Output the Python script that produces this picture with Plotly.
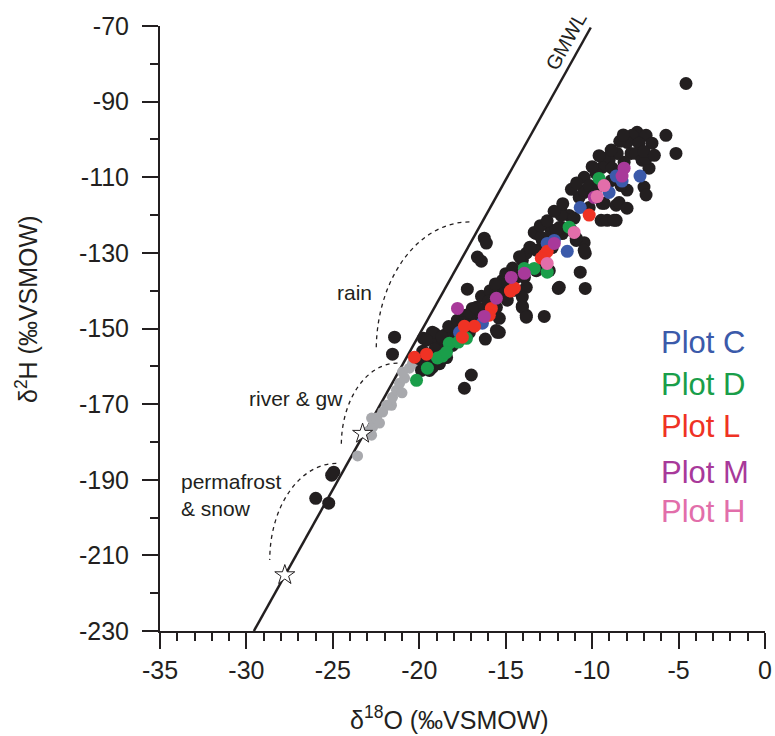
import plotly.graph_objects as go

# ---------------- data ----------------
grey_x = [-23.57, -22.76, -23.05, -22.70, -22.76, -22.47, -22.12, -21.61, -21.55, -21.32,
          -21.14, -20.85, -20.97, -20.57, -20.39, -19.99, -21.89, -22.30, -21.00]
grey_y = [-183.7, -178.2, -177.4, -176.1, -173.7, -173.7, -172.1, -170.3, -168.2, -166.3,
          -164.5, -163.1, -161.5, -160.5, -159.2, -158.9, -170.3, -175.0, -167.0]

black_x = [-4.57, -25.07, -24.95, -25.99, -25.24, -21.43, -21.55, -16.24, -16.12, -16.64,
           -16.41, -17.22, -16.99, -17.39, -16.18, -15.37, -12.77, -11.96, -10.40, -10.69,
           -10.40, -13.81, -14.04, -19.76, -19.12, -19.00, -18.66, -18.42, -19.00, -18.08,
           -17.67, -16.81, -16.69, -16.12, -15.77, -15.54, -15.25, -14.96, -14.39, -13.92,
           -13.81, -14.04, -14.62, -14.04, -13.81, -13.23, -13.23, -12.88, -12.31, -11.73,
           -11.33, -11.73, -11.73, -10.92, -10.46, -16.52, -16.81, -15.48, -15.37, -15.20,
           -14.04, -13.81, -13.35, -12.94, -12.65, -12.31, -12.37, -11.90, -11.21, -10.75,
           -10.46, -9.42, -9.48, -9.13, -8.61, -8.61, -10.17, -7.40, -6.88, -7.69,
           -7.98, -7.29, -6.54, -5.73, -5.15, -7.75, -8.15, -7.46, -7.11, -6.71,
           -6.88, -8.55, -9.02, -9.30, -9.42, -8.84, -8.44, -7.98, -7.00, -6.88,
           -8.44, -7.98, -9.30, -8.73, -9.77, -10.46, -10.46, -10.17, -11.04, -10.92,
           -10.46, -11.79, -12.08, -11.90, -19.24, -19.58, -18.83, -19.24, -19.87, -19.58,
           -16.93, -15.54, -19.41, -12.77, -13.23, -12.48, -14.50, -14.91, -17.10, -17.56,
           -17.97, -18.55, -18.08, -18.83, -19.30, -17.10, -9.60, -8.90, -9.88, -8.33,
           -18.30, -17.80, -17.30, -16.40, -15.90, -15.60, -15.00, -14.60, -14.20, -13.60,
           -13.00, -12.60, -12.20, -11.70, -11.20, -10.90, -10.00, -9.60, -8.90, -8.40,
           -8.20, -7.00, -6.40, -19.80, -19.10, -20.00, -18.70, -17.50, -16.00, -14.80]
black_y = [-85.2, -188.8, -188.0, -194.9, -196.2, -152.3, -156.8, -126.1, -127.4, -131.1,
           -132.2, -139.6, -162.3, -165.8, -152.8, -151.0, -146.8, -139.4, -139.4, -135.1,
           -130.1, -146.5, -144.1, -152.6, -151.3, -153.2, -154.0, -157.7, -159.3, -151.3,
           -151.0, -145.2, -144.4, -144.4, -142.5, -144.4, -140.7, -138.0, -136.5, -136.5,
           -139.1, -141.7, -136.5, -132.0, -130.1, -129.3, -124.9, -126.7, -124.9, -119.6,
           -120.1, -124.9, -123.3, -126.7, -127.3, -144.7, -147.0, -151.0, -147.3, -137.3,
           -144.4, -147.0, -124.6, -125.9, -127.5, -128.6, -124.0, -123.3, -124.0, -115.3,
           -114.0, -116.9, -121.4, -121.4, -121.4, -117.4, -118.0, -98.1, -98.9, -98.9,
           -100.8, -101.0, -101.0, -98.9, -103.7, -103.7, -106.0, -103.7, -105.5, -107.6,
           -105.0, -103.7, -105.5, -105.0, -107.4, -107.6, -108.7, -113.4, -112.6, -114.7,
           -116.7, -118.2, -116.9, -121.4, -109.0, -110.0, -113.5, -112.2, -120.8, -126.1,
           -129.3, -120.1, -124.0, -139.1, -151.0, -153.1, -159.3, -160.3, -161.1, -158.5,
           -144.7, -150.5, -161.1, -132.6, -134.7, -134.7, -139.9, -142.5, -147.3, -149.1,
           -150.5, -151.8, -154.5, -155.8, -157.7, -151.0, -112.2, -110.9, -114.7, -112.2,
           -149.5, -147.8, -146.5, -141.5, -140.0, -138.2, -135.5, -134.0, -131.0, -128.5,
           -122.8, -121.5, -119.0, -117.0, -113.2, -111.5, -107.2, -104.3, -102.8, -100.5,
           -98.8, -103.2, -104.2, -156.0, -155.5, -158.0, -152.2, -148.5, -142.8, -139.0]

plotC_x = [-8.61, -8.27, -7.23, -9.02, -10.69, -12.60, -12.19, -11.44, -16.35, -17.67]
plotC_y = [-109.7, -111.0, -109.7, -114.0, -118.0, -127.5, -126.7, -129.6, -148.6, -151.0]

plotD_x = [-9.60, -11.33, -13.35, -12.60, -13.92, -18.26, -17.74, -18.66, -18.95, -18.43,
           -19.53, -20.16, -17.27]
plotD_y = [-110.3, -123.2, -134.1, -135.1, -134.1, -153.9, -153.6, -157.3, -157.8, -156.3,
           -160.5, -163.7, -152.6]

plotL_x = [-10.17, -12.77, -12.60, -12.94, -14.50, -14.73, -15.83, -15.95, -17.39, -16.81,
           -17.51, -19.58, -20.28]
plotL_y = [-120.0, -130.6, -129.6, -131.4, -139.3, -140.1, -144.7, -146.5, -149.4, -149.4,
           -152.3, -156.8, -157.6]

plotM_x = [-8.15, -8.27, -9.88, -12.19, -14.68, -13.92, -15.54, -16.24, -17.79]
plotM_y = [-107.6, -109.7, -115.3, -127.5, -136.5, -135.4, -142.0, -146.8, -144.7]

plotH_x = [-9.31, -9.71, -11.04, -12.60]
plotH_y = [-112.2, -115.1, -124.6, -132.8]

gmwl_x = [-29.57, -10.08]
gmwl_y = [-230.0, -70.4]

star_x = [-23.28, -27.78]
star_y = [-177.8, -215.2]

# dashed zone arcs: centre x, centre y, radius x, radius y
arc_names = ["rain", "river", "permafrost"]
arc_cx = [-17.10, -21.26, -24.80]
arc_cy = [-155.73, -180.84, -211.24]
arc_rx = [5.39, 3.25, 3.85]
arc_ry = [33.92, 21.68, 25.56]

x_tick_vals = [-35, -30, -25, -20, -15, -10, -5, 0]
x_tick_text = ["-35", "-30", "-25", "-20", "-15", "-10", "-5", "0"]
y_tick_vals = [-230, -210, -190, -170, -150, -130, -110, -90, -70]
y_tick_text = ["-230", "-210", "-190", "-170", "-150", "-130", "-110", "-90", "-70"]

series_names = ["Plot C", "Plot D", "Plot L", "Plot M", "Plot H"]
series_colors = ["#3b5aaa", "#1a9e4a", "#ef3224", "#a8399a", "#e26eaa"]

# ---------------- figure ----------------
FONT = "Arial, Liberation Sans, Helvetica, sans-serif"
INK = "#231f20"

fig = go.Figure()

fig.add_trace(go.Scatter(x=gmwl_x, y=gmwl_y, mode="lines",
                         line=dict(color=INK, width=2.5), hoverinfo="skip"))

fig.add_trace(go.Scatter(x=grey_x, y=grey_y, mode="markers",
                         marker=dict(color="#a8a9ad", size=11, line=dict(width=0))))
fig.add_trace(go.Scatter(x=black_x, y=black_y, mode="markers",
                         marker=dict(color=INK, size=13, line=dict(width=0))))

for xs, ys, c in zip([plotC_x, plotD_x, plotL_x, plotM_x, plotH_x],
                     [plotC_y, plotD_y, plotL_y, plotM_y, plotH_y], series_colors):
    fig.add_trace(go.Scatter(x=xs, y=ys, mode="markers",
                             marker=dict(color=c, size=13, line=dict(width=0))))

fig.add_trace(go.Scatter(x=star_x, y=star_y, mode="markers",
                         marker=dict(symbol="star", size=15, color="white",
                                     line=dict(color=INK, width=1))))

# dashed quarter-ellipse arcs (cubic Bezier approximation)
k = 0.5523
shapes = []
for cx, cy, rx, ry in zip(arc_cx, arc_cy, arc_rx, arc_ry):
    p0 = (cx, cy + ry)
    p1 = (cx - k * rx, cy + ry)
    p2 = (cx - rx, cy + k * ry)
    p3 = (cx - rx, cy)
    path = f"M {p0[0]},{p0[1]} C {p1[0]},{p1[1]} {p2[0]},{p2[1]} {p3[0]},{p3[1]}"
    shapes.append(dict(type="path", path=path, xref="x", yref="y",
                       line=dict(color=INK, width=1.3, dash="4px,4px")))

annotations = [
    dict(x=-23.74, y=-140.4, text="rain", showarrow=False,
         font=dict(size=21, color=INK, family=FONT)),
    dict(x=-27.12, y=-168.4, text="river & gw", showarrow=False,
         font=dict(size=21, color=INK, family=FONT)),
    dict(x=-33.90, y=-194.0, text="permafrost<br>& snow", showarrow=False,
         xanchor="left", align="left",
         font=dict(size=21, color=INK, family=FONT)),
    dict(x=-11.50, y=-74.0, text="GMWL", showarrow=False, textangle=-60.8,
         font=dict(size=20, color=INK, family=FONT)),
    # axis titles
    dict(xref="paper", yref="paper", x=0.479, y=-0.1437, text="δ<sup>18</sup>O (‰VSMOW)",
         xanchor="center", yanchor="middle",
         showarrow=False, font=dict(size=25, color=INK, family=FONT)),
    dict(xref="paper", yref="paper", x=-0.220, y=0.532, text="δ<sup>2</sup>H (‰VSMOW)",
         xanchor="center", yanchor="middle",
         showarrow=False, textangle=-90, font=dict(size=25, color=INK, family=FONT)),
]
legend_y = [-153.7, -164.7, -175.8, -188.2, -198.5]
for name, col, ly in zip(series_names, series_colors, legend_y):
    annotations.append(dict(x=-6.13, y=ly, text=name, showarrow=False, xanchor="left",
                            font=dict(size=31, color=col, family=FONT)))

fig.update_layout(
    width=775, height=736,
    margin=dict(l=160, r=10, t=26, b=105, autoexpand=False),
    paper_bgcolor="white", plot_bgcolor="white",
    showlegend=False,
    shapes=shapes,
    annotations=annotations,
    font=dict(family=FONT, color=INK),
)

fig.update_xaxes(
    range=[-35, 0], showgrid=False, zeroline=False, automargin=False,
    showline=True, linecolor=INK, linewidth=2,
    tickmode="array", tickvals=x_tick_vals, ticktext=x_tick_text,
    ticks="outside", ticklen=16, tickwidth=1.5, tickcolor=INK,
    tickfont=dict(size=25, color=INK, family=FONT),
    minor=dict(tickmode="linear", tick0=-35, dtick=1, ticks="outside",
               ticklen=8, tickwidth=1.5, tickcolor=INK, showgrid=False),
)
fig.update_yaxes(
    range=[-230, -70], showgrid=False, zeroline=False, automargin=False,
    showline=True, linecolor=INK, linewidth=2,
    tickmode="array", tickvals=y_tick_vals, ticktext=y_tick_text,
    ticks="outside", ticklen=16, tickwidth=1.5, tickcolor=INK,
    tickfont=dict(size=25, color=INK, family=FONT),
    ticklabelstandoff=8,
    minor=dict(tickmode="linear", tick0=-230, dtick=10, ticks="outside",
               ticklen=8, tickwidth=1.5, tickcolor=INK, showgrid=False),
)

fig.write_html("out.html")
